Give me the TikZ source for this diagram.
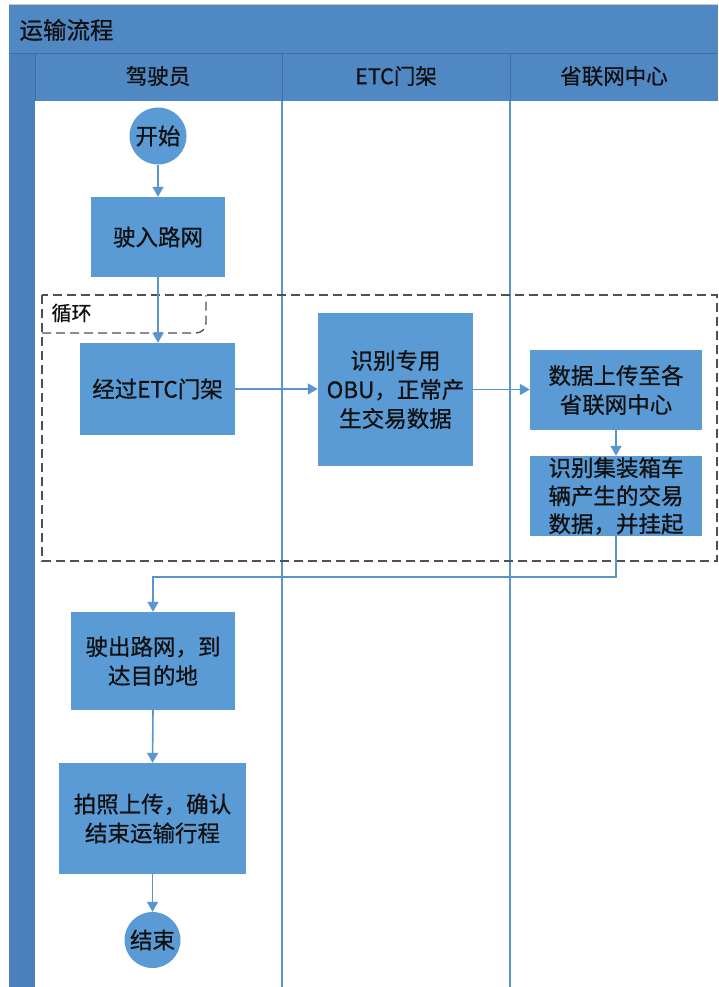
\documentclass[tikz,border=0pt]{standalone}
\usepackage{fontspec}
\setmainfont{Noto Sans CJK SC}[FakeBold=0.8]
\usetikzlibrary{arrows.meta}
\definecolor{boxblue}{HTML}{5B9BD5}
\definecolor{barblue}{HTML}{5088C3}
\definecolor{stripblue}{HTML}{4A80BC}
\definecolor{sepblue}{HTML}{3E6FA6}
\definecolor{lineblue}{HTML}{5B95CF}
\definecolor{txt}{HTML}{111111}
\definecolor{loopgray}{HTML}{505050}
\begin{document}
\begin{tikzpicture}[x=1pt,y=-1pt,
  proc/.style={draw=none, fill=boxblue, text=txt, align=center, inner sep=0pt,
    font=\fontsize{22.5}{29}\selectfont},
  term/.style={circle, fill=boxblue, text=txt, inner sep=0pt, minimum size=57pt,
    font=\fontsize{22.5}{24}\selectfont},
  flow/.style={draw=lineblue, line width=1.6pt, -{Triangle[length=10pt,width=11pt]}},
  lane/.style={draw=lineblue, line width=1.2pt},
  hdr/.style={text=txt, font=\fontsize{21.5}{24}\selectfont},
  loopline/.style={draw=loopgray, line width=1.4pt, dash pattern=on 9pt off 5pt}
]
\useasboundingbox (0,0) rectangle (718,987);
\fill[white] (0,0) rectangle (718,987);
% pool frame
\fill[barblue] (9,5) rectangle (718,987);
\fill[stripblue] (9,53) rectangle (35,987);
\fill[white] (35,101) rectangle (718,987);
\draw[gray!40, line width=1pt] (9,4.5) -- (718,4.5);
\draw[sepblue, line width=0.8pt] (9,53) -- (718,53);
\draw[sepblue, line width=0.8pt] (35,53) -- (35,101);
\draw[sepblue, line width=0.8pt] (282,53) -- (282,101);
\draw[sepblue, line width=0.8pt] (510,53) -- (510,101);
% lane lines
\draw[lane] (282,101) -- (282,987);
\draw[lane] (510,101) -- (510,987);
% title and headers
\node[hdr, anchor=west, font=\fontsize{23.5}{24}\selectfont] (title) at (16,30) {运输流程};
\node[hdr] (h1) at (158,76) {驾驶员};
\node[hdr] (h2) at (396,76) {ETC门架};
\node[hdr] (h3) at (614,76) {省联网中心};
% loop frame
\draw[loopline] (42,295) rectangle (717,561);
\draw[loopline, rounded corners=10pt] (42,333) -- (206,333) -- (206,295);
\node[text=txt, anchor=west, font=\fontsize{20}{22}\selectfont] (looplbl) at (48,313) {循环};
% nodes
\node[term] (start) at (158,136) {开始};
\node[proc, minimum width=134pt, minimum height=80pt] (b1) at (158,237) {驶入路网};
\node[proc, minimum width=155pt, minimum height=92pt] (b2) at (157.5,389) {经过ETC门架};
\node[proc, minimum width=155pt, minimum height=153pt] (b3) at (395.5,389.5) {识别专用\\OBU，正常产\\生交易数据};
\node[proc, minimum width=172pt, minimum height=80pt] (b4) at (616,390) {数据上传至各\\省联网中心};
\node[proc, minimum width=172pt, minimum height=80pt, font=\fontsize{22.5}{28}\selectfont] (b5) at (616,496) {识别集装箱车\\辆产生的交易\\数据，并挂起};
\node[proc, minimum width=164pt, minimum height=98pt] (b6) at (153,661) {驶出路网，到\\达目的地};
\node[proc, minimum width=187pt, minimum height=111pt] (b7) at (152.5,818.5) {拍照上传，确认\\结束运输行程};
\node[term, minimum size=56pt] (end) at (152.5,940) {结束};
\coordinate (turn) at (616,577);
% connectors
\draw[flow] (start) -- (start |- b1.north);
\draw[flow] (b1.south) -- (b1.south |- b2.north);
\draw[flow] (b2.east) -- (b2.east -| b3.west);
\draw[flow] (b3.east) -- (b3.east -| b4.west);
\draw[flow] (b4.south) -- (b5.north);
\draw[flow] (b5.south) -- (turn) -- (turn -| b6.north) -- (b6.north);
\draw[flow] (b6.south) -- (b7.north);
\draw[flow] (b7.south) -- (end.north);
\end{tikzpicture}
\end{document}
